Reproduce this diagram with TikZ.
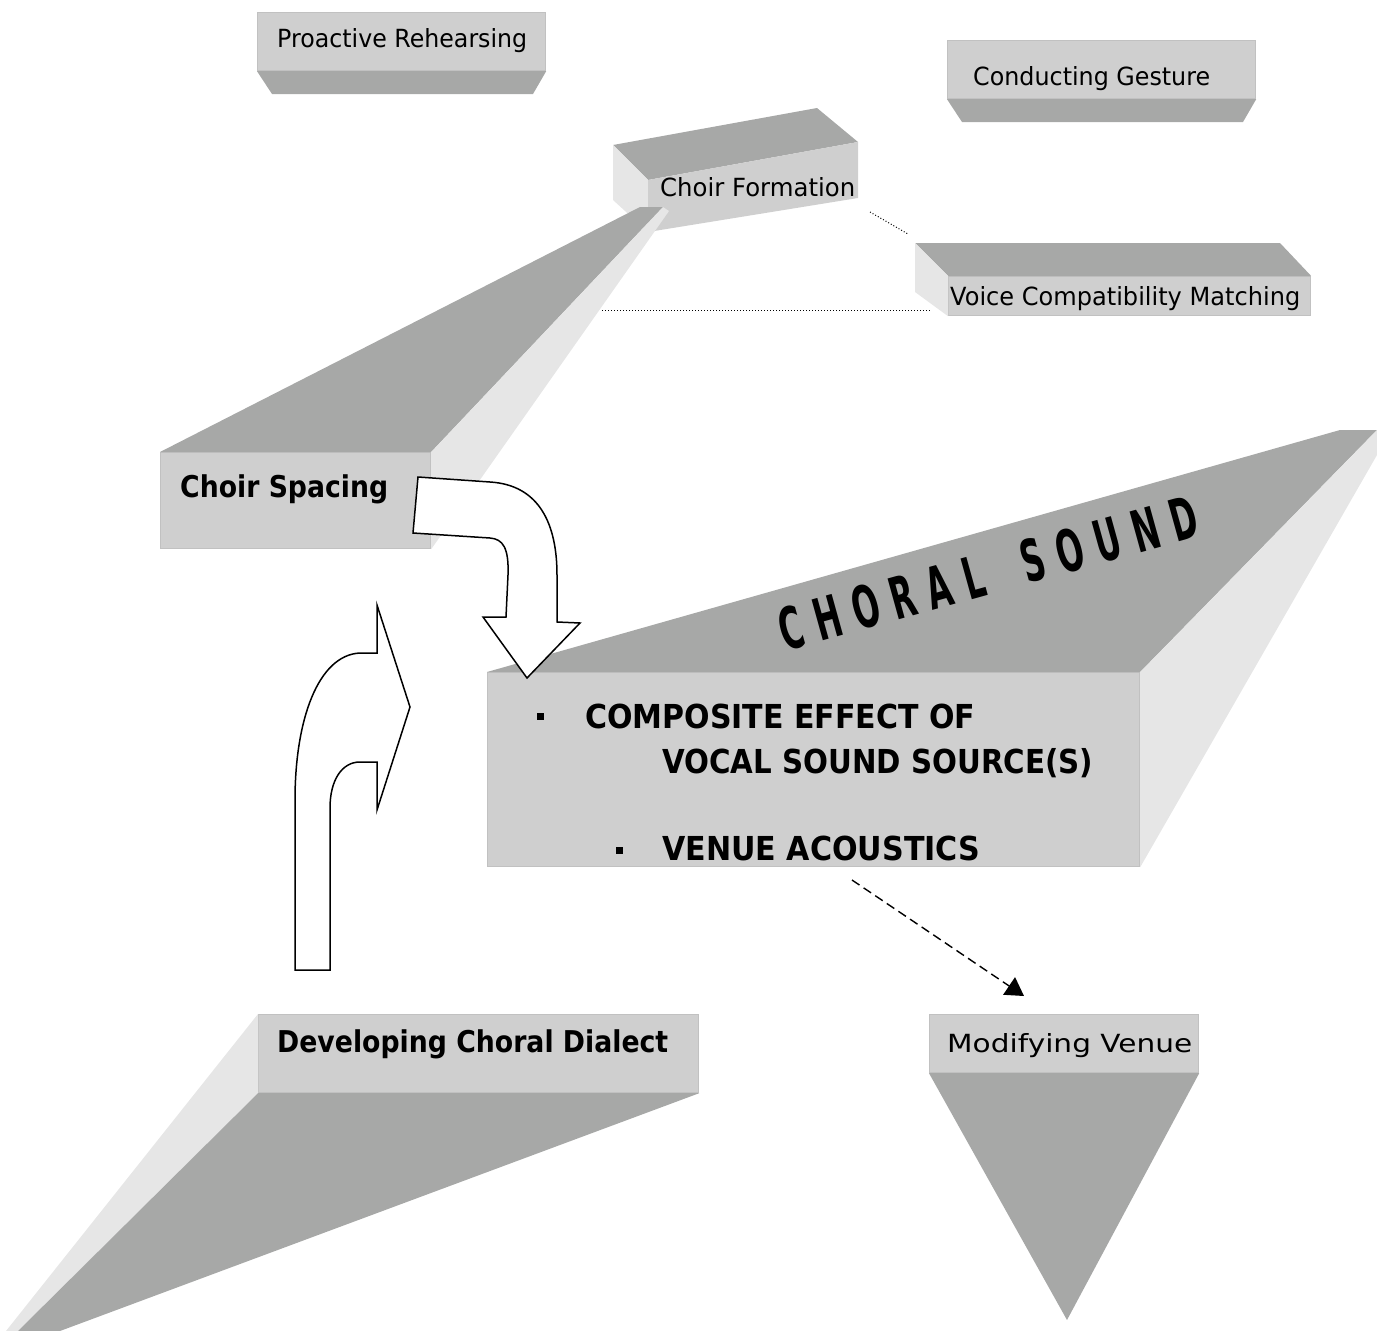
\documentclass[tikz,border=0pt]{standalone}
\usepackage{fontspec}
\setmainfont{DejaVu Sans}
\usepackage{graphicx}
\usetikzlibrary{arrows.meta}
\definecolor{frontc}{RGB}{207,207,207}
\definecolor{darkc}{RGB}{167,168,167}
\definecolor{lightc}{RGB}{230,230,230}
\definecolor{edgec}{RGB}{193,193,193}
\newcommand\tw[2]{\resizebox{#1}{\height}{#2}}
\newcommand\cl[1]{\scalebox{0.55}[1]{\fontsize{58}{58}\selectfont\bfseries #1}}
\begin{document}
\begin{tikzpicture}[x=1pt,y=-1pt,
  front/.style={fill=frontc, draw=edgec, line width=1.2pt, inner sep=0pt, anchor=north west, rectangle},
  darkface/.style={fill=darkc},
  lightface/.style={fill=lightc},
  lbl/.style={anchor=base west, inner sep=0pt, font=\fontsize{25}{30}\selectfont},
  blbl/.style={anchor=base west, inner sep=0pt, font=\fontsize{30}{36}\selectfont\bfseries},
  clbl/.style={anchor=base west, inner sep=0pt, font=\fontsize{33}{40}\selectfont\bfseries},
  bulletsq/.style={fill=black, minimum size=7pt, inner sep=0pt, rectangle},
  blockarrow/.style={fill=white, draw=black, line width=1.5pt, line join=miter},
  dotline/.style={line width=1pt, dash pattern=on 1pt off 2pt},
]
\useasboundingbox (0,0) rectangle (1377,1331);
\clip (0,0) rectangle (1377,1331);

% Proactive Rehearsing
\node[front, minimum width=288pt, minimum height=58pt] (pr) at (257,12) {};
\fill[darkface] (pr.south west) -- (pr.south east) -- (533,94) -- (272,94) -- cycle;
\node[lbl] (prt) at (277,47) {\tw{250pt}{Proactive Rehearsing}};

% Conducting Gesture
\node[front, minimum width=308pt, minimum height=58pt] (cg) at (947,40) {};
\fill[darkface] (cg.south west) -- (cg.south east) -- (1243,122) -- (962,122) -- cycle;
\node[lbl] (cgt) at (973,85) {\tw{237pt}{Conducting Gesture}};

% Choir Formation
\fill[darkface] (613,145) -- (817,108) -- (858,142) -- (648,180) -- cycle;
\fill[lightface] (613,145) -- (648,180) -- (648,232) -- (613,200) -- cycle;
\fill[fill=frontc] (648,180) -- (858,142) -- (858,198) -- (648,232) -- cycle;
\node[lbl] (cf) at (660,196) {\tw{195pt}{Choir Formation}};

% Voice Compatibility Matching
\node[front, minimum width=362pt, minimum height=39pt] (vcm) at (948,276) {};
\fill[darkface] (915,243) -- (1280,243) -- (vcm.north east) -- (vcm.north west) -- cycle;
\fill[lightface] (915,243) -- (vcm.north west) -- (vcm.south west) -- (915,292) -- cycle;
\node[lbl] (vcmt) at (950,305) {\tw{350pt}{Voice Compatibility Matching}};

% Choir Spacing
\node[front, minimum width=270pt, minimum height=96pt] (csp) at (160,452) {};
\fill[darkface] (csp.north west) -- (csp.north east) -- (663,207) -- (640,207) -- cycle;
\fill[lightface] (csp.north east) -- (663,207) -- (669,211) -- (csp.south east) -- cycle;
\node[blbl] (cspt) at (180,497) {\tw{208pt}{Choir Spacing}};

% dotted connectors
\coordinate (dA) at (870,212);
\coordinate (dB) at (908,234);
\draw[dotline] (dA) -- (dB);
\coordinate (dC) at (602,310);
\coordinate (dD) at (930,310);
\draw[dotline] (dC) -- (dD);

% CHORAL SOUND box
\node[front, minimum width=652pt, minimum height=194pt] (chs) at (487,672) {};
\fill[darkface] (chs.north west) -- (1340,430) -- (1377,430) -- (chs.north east) -- cycle;
\fill[lightface] (chs.north east) -- (1377,430) -- (1377,455) -- (chs.south east) -- cycle;
\node[rotate=15.5, inner sep=0pt] (cst) at (988,573)
  {\makebox[432pt][s]{\cl{C}\hfill\cl{H}\hfill\cl{O}\hfill\cl{R}\hfill\cl{A}\hfill\cl{L}\hspace{28pt}\hfill\cl{S}\hfill\cl{O}\hfill\cl{U}\hfill\cl{N}\hfill\cl{D}}};
\node[bulletsq] (b1) at (540,716) {};
\node[clbl] (t1) at (585,728) {\tw{390pt}{COMPOSITE EFFECT OF}};
\node[clbl] (t2) at (662,773) {\tw{431pt}{VOCAL SOUND SOURCE(S)}};
\node[bulletsq] (b2) at (619,850) {};
\node[clbl] (t3) at (662,860) {\tw{318pt}{VENUE ACOUSTICS}};

% block arrow from Choir Spacing down to Choral Sound
\draw[blockarrow] (418,477) -- (490,482) .. controls (540,485) and (557,525) .. (557,575)
  -- (557,622) -- (580,623) -- (527,678) -- (483,617) -- (506,617) -- (508,575)
  .. controls (509,548) and (503,539) .. (490,538) -- (413,533) -- cycle;

% block arrow up and right
\draw[blockarrow] (295,970) -- (295,800) .. controls (295,720) and (318,655) .. (360,653)
  -- (377,653) -- (377,605) -- (410,707) -- (377,810) -- (377,762) -- (360,762)
  .. controls (342,762) and (330,780) .. (330,808) -- (330,970) -- cycle;

% dashed arrow
\coordinate (da1) at (852,880);
\coordinate (da2) at (1024,996);
\draw[line width=1.4pt, dash pattern=on 9pt off 5pt, -{Triangle[length=18pt,width=21pt]}] (da1) -- (da2);

% Modifying Venue
\node[front, minimum width=269pt, minimum height=58pt] (mv) at (929,1014) {};
\fill[darkface] (mv.south west) -- (mv.south east) -- (1067,1320) -- cycle;
\node[lbl] (mvt) at (947,1052) {\tw{245pt}{Modifying Venue}};

% Developing Choral Dialect
\node[front, minimum width=440pt, minimum height=78pt] (dcd) at (258,1014) {};
\fill[lightface] (dcd.north west) -- (dcd.south west) -- (18,1331) -- (6,1331) -- cycle;
\fill[darkface] (dcd.south west) -- (dcd.south east) -- (60,1331) -- (18,1331) -- cycle;
\node[blbl] (dcdt) at (277,1052) {\tw{391pt}{Developing Choral Dialect}};
\end{tikzpicture}
\end{document}
